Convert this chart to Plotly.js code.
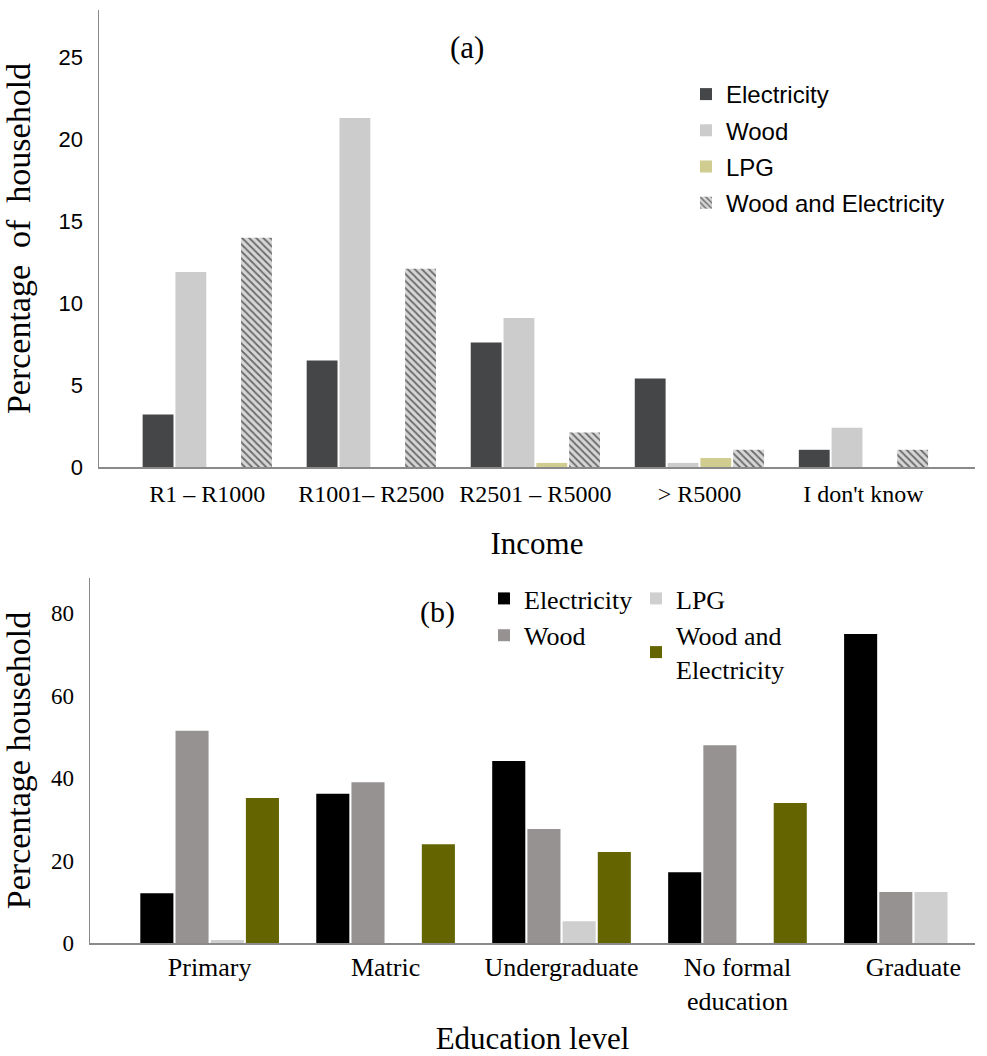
<!DOCTYPE html>
<html>
<head>
<meta charset="utf-8">
<script src="https://cdn.plot.ly/plotly-3.0.1.min.js"></script>
<style>html,body{margin:0;padding:0;background:#fff;}#chart{width:987px;height:1056px;}</style>
</head>
<body>
<div id="chart"></div>
<script>
// Panel (a): fuel use by income
const incomeCats = ["R1 – R1000", "R1001– R2500", "R2501 – R5000", "> R5000", "I don't know"];
const incElectricity = [3.2, 6.5, 7.6, 5.4, 1.05];
const incWood = [11.9, 21.3, 9.1, 0.25, 2.4];
const incLPG = [0, 0, 0.25, 0.55, 0];
const incWoodElec = [14.0, 12.1, 2.1, 1.05, 1.05];

// Panel (b): fuel use by education level
const eduCats = ["Primary", "Matric", "Undergraduate", "No formal<br>education", "Graduate"];
const eduElectricity = [12.1, 36.2, 44.2, 17.2, 75.0];
const eduWood = [51.5, 39.0, 27.7, 48.0, 12.4];
const eduLPG = [0.7, 0, 5.3, 0, 12.4];
const eduWoodElec = [35.2, 24.0, 22.1, 34.0, 0];

const serif = "Liberation Serif, Times New Roman, serif";
const sans = "Liberation Sans, Arial, sans-serif";

const traces = [
  {type:'bar', name:'Electricity', x:incomeCats, y:incElectricity, xaxis:'x', yaxis:'y', legend:'legend', legendgroup:'a1',
   marker:{color:'#444648', line:{width:0}}},
  {type:'bar', name:'Wood', x:incomeCats, y:incWood, xaxis:'x', yaxis:'y', legend:'legend', legendgroup:'a2',
   marker:{color:'#cccccc', line:{width:0}}},
  {type:'bar', name:'LPG', x:incomeCats, y:incLPG, xaxis:'x', yaxis:'y', legend:'legend', legendgroup:'a3',
   marker:{color:'#d1cc90', line:{width:0}}},
  {type:'bar', name:'Wood and Electricity', x:incomeCats, y:incWoodElec, xaxis:'x', yaxis:'y', legend:'legend', legendgroup:'a4',
   marker:{color:'#d6d6d6', line:{width:0}, pattern:{shape:'\\', fgcolor:'#6a6a6a', bgcolor:'#d6d6d6', size:5, solidity:0.35}}},

  {type:'bar', name:'Electricity', x:eduCats, y:eduElectricity, xaxis:'x2', yaxis:'y2', legend:'legend2',
   marker:{color:'#000000', line:{width:0}}},
  {type:'bar', name:'Wood', x:eduCats, y:eduWood, xaxis:'x2', yaxis:'y2', legend:'legend2',
   marker:{color:'#969292', line:{width:0}}},
  {type:'bar', name:'LPG', x:eduCats, y:eduLPG, xaxis:'x2', yaxis:'y2', legend:'legend3',
   marker:{color:'#cfcfcf', line:{width:0}}},
  {type:'bar', name:'Wood and<br>Electricity', x:eduCats, y:eduWoodElec, xaxis:'x2', yaxis:'y2', legend:'legend3',
   marker:{color:'#646400', line:{width:0}}}
];

const axLine = '#8a8a8a';
const layout = {
  width:987, height:1056,
  margin:{l:0, r:0, t:0, b:0},
  paper_bgcolor:'#ffffff', plot_bgcolor:'#ffffff',
  barmode:'group', bargap:0.2, bargroupgap:0.06,
  showlegend:true,
  xaxis:{domain:[99/987, 975/987], anchor:'y', range:[-0.66, 4.68], showgrid:false, zeroline:false,
    showline:true, linecolor:axLine, linewidth:1.5, ticks:'', tickfont:{family:serif, size:24, color:'#000'},
    ticklabelstandoff:5,
    title:{text:'Income', font:{family:serif, size:31, color:'#000'}, standoff:26}, automargin:false},
  yaxis:{domain:[1-467/1056, 1-10/1056], anchor:'x', range:[0, 27.9], tickvals:[0,5,10,15,20,25], showgrid:false, zeroline:false,
    showline:true, linecolor:axLine, linewidth:1.5, ticks:'', tickfont:{family:sans, size:22, color:'#000'},
    ticklabelstandoff:10,
    title:{text:'Percentage  of  household', font:{family:serif, size:34, color:'#000'}, standoff:22}, automargin:false},
  xaxis2:{domain:[90/987, 975/987], anchor:'y2', range:[-0.68, 4.35], showgrid:false, zeroline:false,
    showline:true, linecolor:axLine, linewidth:1.5, ticks:'', tickfont:{family:serif, size:26, color:'#000'},
    ticklabelstandoff:0,
    title:{text:'Education level', font:{family:serif, size:31, color:'#000'}, standoff:44}, automargin:false},
  yaxis2:{domain:[1-943/1056, 1-578/1056], anchor:'x2', range:[0, 88.6], tickvals:[0,20,40,60,80], showgrid:false, zeroline:false,
    showline:true, linecolor:axLine, linewidth:1.5, ticks:'', tickfont:{family:serif, size:23, color:'#000'},
    ticklabelstandoff:10,
    title:{text:'Percentage household', font:{family:serif, size:34, color:'#000'}, standoff:24}, automargin:false},
  legend:{x:686/987, y:1-72/1056, xanchor:'left', yanchor:'top', bgcolor:'rgba(0,0,0,0)',
    font:{family:sans, size:24, color:'#000'}, itemwidth:30, tracegroupgap:2},
  legend2:{x:484/987, y:1-575/1056, xanchor:'left', yanchor:'top', bgcolor:'rgba(0,0,0,0)',
    font:{family:serif, size:26, color:'#000'}, itemwidth:30},
  legend3:{x:636/987, y:1-575/1056, xanchor:'left', yanchor:'top', bgcolor:'rgba(0,0,0,0)',
    font:{family:serif, size:26, color:'#000'}, itemwidth:30},
  annotations:[
    {text:'(a)', xref:'paper', yref:'paper', x:467/987, y:1-48/1056, showarrow:false,
     font:{family:serif, size:31, color:'#000'}, xanchor:'center', yanchor:'middle'},
    {text:'(b)', xref:'paper', yref:'paper', x:437/987, y:1-612/1056, showarrow:false,
     font:{family:serif, size:30, color:'#000'}, xanchor:'center', yanchor:'middle'}
  ]
};

Plotly.newPlot('chart', traces, layout, {staticPlot:true, displayModeBar:false});
</script>
</body>
</html>
